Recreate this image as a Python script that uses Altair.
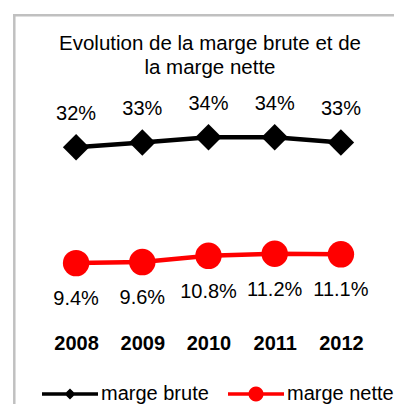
import altair as alt
import pandas as pd
import math

FONT = "Liberation Sans, Arial, sans-serif"

years = ["2008", "2009", "2010", "2011", "2012"]
marge_brute = [31.7, 32.6, 33.6, 33.6, 32.6]
marge_nette = [9.4, 9.6, 10.8, 11.2, 11.1]
series = ["marge brute", "marge nette"]
series_colors = ["#000000", "#ff0000"]
title_lines = ["Evolution de la marge brute et de", "la marge nette"]

df = pd.DataFrame({
    "year": years * 2,
    "value": marge_brute + marge_nette,
    "series": [series[0]] * len(years) + [series[1]] * len(years),
    "label": [f"{v:.0f}%" for v in marge_brute] + [f"{v:.1f}%" for v in marge_nette],
})
one = pd.DataFrame({"k": [0]})

# legend symbol paths (line + marker), unit box
h = 0.0625
rect = f"M-1,{-h}L1,{-h}L1,{h}L-1,{h}Z"
PATH_B = rect + "M-0.2,0L0,-0.2L0.2,0L0,0.2Z"
pts = []
for i in range(24):
    t = 2 * math.pi * i / 24
    pts.append(f"{0.27*math.cos(t):.4f},{0.27*math.sin(t):.4f}")
PATH_N = rect + "M" + "L".join(pts) + "Z"

x_enc = alt.X(
    "year:N",
    sort=years,
    scale=alt.Scale(type="point", padding=0.5),
    axis=alt.Axis(title=None, domain=False, ticks=False, tickSize=0, grid=False,
                  labelAngle=0, labelFont=FONT, labelFontSize=20, labelFontWeight="bold",
                  labelColor="black", labelPadding=31, labelBaseline="middle"),
)
y_enc = alt.Y("value:Q", scale=alt.Scale(domain=[0, 40]), axis=None)

base = alt.Chart(df).encode(x=x_enc, y=y_enc)

color_scale = alt.Scale(domain=series, range=series_colors)

sym_shape = {"expr": f"datum.value === '{series[0]}' ? '{PATH_B}' : '{PATH_N}'"}
sym_fill = {"expr": f"datum.value === '{series[0]}' ? '{series_colors[0]}' : '{series_colors[1]}'"}

lines = base.mark_line(strokeWidth=4.5).encode(
    color=alt.Color(
        "series:N", scale=color_scale,
        legend=alt.Legend(
            title=None, orient="none", legendX=-1, legendY=262, direction="horizontal",
            symbolSize=3136, labelFont=FONT, labelFontSize=20, labelColor="black",
            labelOffset=3, columnPadding=19, padding=0,
            symbolType=sym_shape, symbolFillColor=sym_fill, symbolStrokeWidth=0,
            symbolStrokeColor="transparent", symbolOpacity=1,
        ),
    ),
)

pts_b = base.transform_filter(alt.datum.series == series[0]).mark_point(
    shape="diamond", filled=True, size=700, color=series_colors[0], opacity=1)
pts_n = base.transform_filter(alt.datum.series == series[1]).mark_point(
    shape="circle", filled=True, size=700, color=series_colors[1], opacity=1)

lab_b = base.transform_filter(alt.datum.series == series[0]).mark_text(
    dy=-33, font=FONT, fontSize=20, color="black", baseline="middle").encode(text="label:N")
lab_n = base.transform_filter(alt.datum.series == series[1]).mark_text(
    dy=36, font=FONT, fontSize=20, color="black", baseline="middle").encode(text="label:N")

frame_v = alt.Chart(one).mark_rule(color="#c0c0c0", strokeWidth=2.5).encode(
    x=alt.value(-28.7), y=alt.value(-89), y2=alt.value(300))
frame_h = alt.Chart(one).mark_rule(color="#c0c0c0", strokeWidth=2.5).encode(
    x=alt.value(-30), x2=alt.value(370), y=alt.value(-88.7))

chart = alt.layer(frame_v, frame_h, lines, pts_b, pts_n, lab_b, lab_n).properties(
    width=331, height=208,
    background="white",
    title=alt.Title(text=title_lines, font=FONT, fontSize=20.5, fontWeight="normal",
                    color="black", anchor="middle", offset=-65, lineHeight=24, dx=1.5),
    autosize=alt.AutoSizeParams(type="none"),
    padding={"left": 35, "top": 96, "right": 20, "bottom": 92},
).configure_view(stroke=None)

chart.save("out.html", embed_options={"renderer": "svg", "actions": False})
